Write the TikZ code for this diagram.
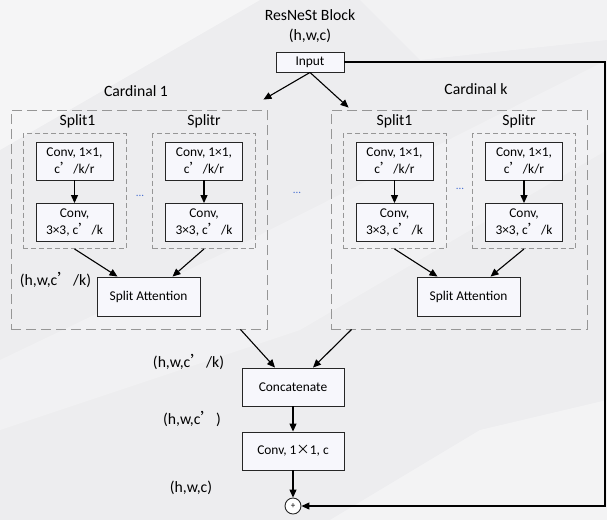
\documentclass[tikz,border=0pt]{standalone}
\usepackage{fontspec}
\setmainfont{Carlito}
\newfontfamily\cjk[RawFeature=+fwid]{Noto Sans CJK SC}
\usetikzlibrary{positioning,arrows.meta}
\definecolor{bgcol}{RGB}{237,237,239}
\definecolor{boxfill}{RGB}{247,247,252}
\definecolor{dashcol}{RGB}{150,150,150}
\definecolor{dotcol}{RGB}{70,110,210}
\newcommand{\cq}{{\cjk ’}}

\begin{document}
\begin{tikzpicture}[x=1pt,y=-1pt,
  box/.style={rectangle, draw=black!85, fill=boxfill, line width=0.9pt, minimum width=77pt, minimum height=38pt, inner sep=1pt, align=center, font=\fontsize{13.4}{17}\selectfont},
  bigbox/.style={box, minimum width=102pt},
  cardbox/.style={rectangle, draw=dashcol, line width=0.9pt, dash pattern=on 10pt off 5pt, minimum width=256pt, minimum height=219pt},
  splitbox/.style={rectangle, draw=dashcol, line width=0.9pt, dash pattern=on 5pt off 3pt, minimum width=103pt, minimum height=115pt},
  lbl/.style={font=\fontsize{15.7}{19}\selectfont, inner sep=0pt},
  dots/.style={text=dotcol, font=\fontsize{11}{13}\selectfont, inner sep=0pt},
  >={Triangle[length=8pt,width=7pt]},
  node distance=61pt
]
% background
\fill[bgcol] (0,0) rectangle (607,520);
\fill[white,opacity=0.45] (0,0) -- (260,0) -- (0,150) -- cycle;
\fill[white,opacity=0.25] (0,360) -- (230,250) -- (607,60) -- (607,150) -- (300,330) -- (0,430) -- cycle;
\fill[white,opacity=0.35] (330,520) -- (480,430) -- (607,400) -- (607,520) -- cycle;
\fill[white,opacity=0.3] (360,0) -- (607,0) -- (607,40) -- (420,60) -- cycle;
\useasboundingbox (0,0) rectangle (607,520);

% header
\node[lbl] (title) at (310,15) {ResNeSt Block};
\node[lbl, below of=title, node distance=21pt] (inshape) {(h,w,c)};
\node[box, minimum width=68pt, minimum height=20pt] (input) at (310,62) {Input};

% cardinal 1
\node[cardbox] (card1) at (139,219.5) {};
\node[lbl, above of=card1, node distance=128pt, xshift=-3pt] (card1lbl) {Cardinal 1};
\node[splitbox] (s11) at (74.5,191) {};
\node[splitbox, right of=s11, node distance=129.5pt] (s1r) {};
\node[lbl, above of=s11, node distance=70pt, xshift=3pt] (s11lbl) {Split1};
\node[lbl, above of=s1r, node distance=70pt] (s1rlbl) {Splitr};
\node[box, above of=s11, node distance=30pt] (c11a) {Conv, 1×1,\\c\cq/k/r};
\node[box, below of=s11, node distance=31.5pt] (c11b) {Conv,\\3×3, c\cq/k};
\node[box, above of=s1r, node distance=30pt] (c1ra) {Conv, 1×1,\\c\cq/k/r};
\node[box, below of=s1r, node distance=31.5pt] (c1rb) {Conv,\\3×3, c\cq/k};
\node[box, minimum width=103pt, minimum height=39pt] (att1) at (148.5,296.5) {Split Attention};
\node[dots] (dots1) at (140,196) {...};

% cardinal k
\node[cardbox, right of=card1, node distance=320pt] (card2) {};
\node[lbl, above of=card2, node distance=130pt, xshift=17pt] (card2lbl) {Cardinal k};
\node[splitbox, right of=s11, node distance=320pt] (s21) {};
\node[splitbox, right of=s1r, node distance=320pt] (s2r) {};
\node[lbl, above of=s21, node distance=70pt] (s21lbl) {Split1};
\node[lbl, above of=s2r, node distance=70pt, xshift=-5pt] (s2rlbl) {Splitr};
\node[box, above of=s21, node distance=30pt] (c21a) {Conv, 1×1,\\c\cq/k/r};
\node[box, below of=s21, node distance=31.5pt] (c21b) {Conv,\\3×3, c\cq/k};
\node[box, above of=s2r, node distance=30pt] (c2ra) {Conv, 1×1,\\c\cq/k/r};
\node[box, below of=s2r, node distance=31.5pt] (c2rb) {Conv,\\3×3, c\cq/k};
\node[box, right of=att1, node distance=320pt, minimum width=103pt, minimum height=39pt] (att2) {Split Attention};
\node[dots] (dots2) at (460,189) {...};
\node[dots] (dots0) at (297,193) {...};

% merge
\node[bigbox] (concat) at (293,387) {Concatenate};
\node[bigbox, below of=concat, node distance=64pt] (conv) {Conv, 1{\cjk ×}1, c};
\node[circle, draw=black!85, fill=white, line width=0.9pt, minimum size=16pt, inner sep=0pt, font=\fontsize{9}{9}\selectfont, below of=conv, node distance=55pt] (plus) {+};
\coordinate (rt) at (605,62);

% shape labels
\node[lbl] (shp1) at (55.5,280) {(h,w,c\cq/k)};
\node[lbl] (shp2) at (188.5,362) {(h,w,c\cq/k)};
\node[lbl] (shp3) at (192,419) {(h,w,c\cq)};
\node[lbl] (shp4) at (191,488) {(h,w,c)};

% arrows
\draw[->,line width=1.1pt] (input.south) -- ([xshift=-4pt,yshift=10pt]card1.north east);
\draw[->,line width=1.1pt] (input.south) -- ([xshift=18pt,yshift=2pt]card2.north west);
\draw[->,line width=1.1pt] (c11a) -- (c11b);
\draw[->,line width=1.1pt] (c1ra) -- (c1rb);
\draw[->,line width=1.1pt] (c21a) -- (c21b);
\draw[->,line width=1.1pt] (c2ra) -- (c2rb);
\draw[->,line width=1.1pt] (s11.south) -- ([xshift=-31pt]att1.north);
\draw[->,line width=1.1pt] (s1r.south) -- ([xshift=24pt]att1.north);
\draw[->,line width=1.1pt] (s21.south) -- ([xshift=-31pt]att2.north);
\draw[->,line width=1.1pt] (s2r.south) -- ([xshift=22pt]att2.north);
\draw[->,line width=1.1pt] ([xshift=-27pt]card1.south east) -- ([xshift=-18pt]concat.north);
\draw[->,line width=1.1pt] ([xshift=21pt]card2.south west) -- ([xshift=20pt]concat.north);
\draw[->,line width=1.1pt] (concat) -- (conv);
\draw[->,line width=1.1pt] (conv) -- (plus);
\draw[->,line width=1.1pt] (input.east) -- (rt) |- (plus.east);
\end{tikzpicture}
\end{document}
